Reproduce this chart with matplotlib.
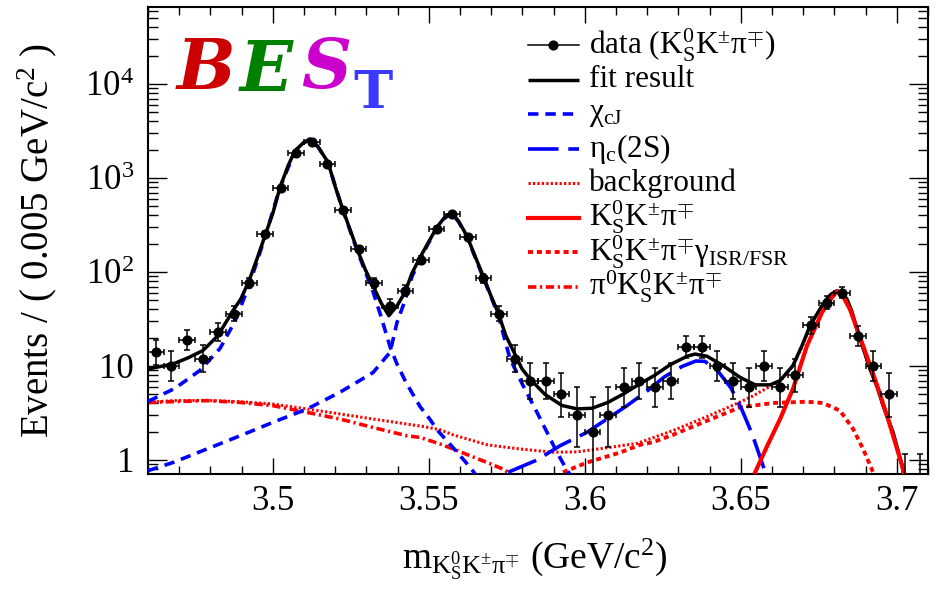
import math
import numpy as np
import matplotlib
matplotlib.use("Agg")
import matplotlib.pyplot as plt
from matplotlib.lines import Line2D
from matplotlib.ticker import MultipleLocator, LogLocator, FuncFormatter, NullFormatter

plt.rcParams['font.family'] = ['Liberation Serif', 'DejaVu Serif']
plt.rcParams['mathtext.fontset'] = 'custom'
plt.rcParams['mathtext.rm'] = 'Liberation Serif'
plt.rcParams['mathtext.it'] = 'Liberation Serif:italic'
plt.rcParams['mathtext.bf'] = 'Liberation Serif:bold'
plt.rcParams['mathtext.default'] = 'rm'
plt.rcParams['lines.scale_dashes'] = False

# ---------------- data: K0S K+- pi-+ invariant mass, 5 MeV bins ----------------
bin_lo, bin_hi, bin_w = 3.46, 3.71, 0.005
counts = [14, 10, 19, 12, 23, 36, 76, 254, 783, 1845, 2415, 1409, 457, 176, 76,
          44, 63, 134, 287, 414, 236, 86, 36, 12, 7, 7, 5, 3, 2, 3,
          6, 7, 6, 7, 16, 16, 10, 7, 6, 10, 6, 8, 27, 47, 60, 21, 10, 5, 0, 0]

# ---------------- fit curves (mass in GeV, events per bin) ----------------
fit_x = [3.4600, 3.4680, 3.4728, 3.4776, 3.4824, 3.4872, 3.4898, 3.4924, 3.4949, 3.4975,
         3.5001, 3.5023, 3.5049, 3.5071, 3.5097, 3.5119, 3.5145, 3.5177, 3.5199, 3.5222,
         3.5247, 3.5270, 3.5296, 3.5321, 3.5347, 3.5372, 3.5398, 3.5424, 3.5446, 3.5472,
         3.5497, 3.5526, 3.5549, 3.5574, 3.5597, 3.5622, 3.5648, 3.5674, 3.5699, 3.5722,
         3.5747, 3.5773, 3.5799, 3.5824, 3.5872, 3.5927, 3.5975, 3.6023, 3.6074, 3.6122,
         3.6171, 3.6225, 3.6273, 3.6328, 3.6353, 3.6392, 3.6443, 3.6497, 3.6546, 3.6594,
         3.6626, 3.6667, 3.6696, 3.6722, 3.6747, 3.6770, 3.6789, 3.6808, 3.6824, 3.6840,
         3.6856, 3.6872, 3.6892, 3.6914, 3.6937, 3.6956, 3.6988, 3.7017, 3.7026]
fit_y = [9.3, 10.5, 12.2, 14.6, 21, 38.7, 52, 81, 137, 243,
         432, 795, 1350, 1950, 2350, 2600, 2150, 1470, 830, 488,
         286, 176, 107, 71.5, 47, 34.3, 43.6, 61, 97, 143,
         202, 300, 375, 432, 340, 243, 148, 91, 56, 37,
         21, 14, 9.3, 7.3, 5.0, 3.8, 3.5, 3.55, 4.1, 5.0,
         6.3, 8.0, 10.3, 12.7, 13.4, 12.7, 10.1, 7.6, 6.3, 6.3,
         7.0, 10.1, 16.4, 26.8, 37, 49.5, 58, 63, 60, 51.6,
         38, 24.8, 15.5, 9.3, 6.0, 3.8, 1.97, 0.87, 0.6]

chic1_x = [3.4600, 3.4687, 3.4767, 3.4831, 3.4879, 3.4924, 3.4975, 3.5023, 3.5071, 3.5097,
           3.5119, 3.5145, 3.5177, 3.5222, 3.5270, 3.5321, 3.5344, 3.5376, 3.5398, 3.5424,
           3.5446, 3.5472, 3.5504, 3.5526, 3.5578, 3.5632, 3.5650]
chic1_y = [4.2, 5.8, 9.0, 15.4, 30, 72, 235, 790, 1940, 2340,
           2590, 2140, 1455, 480, 170, 62, 36, 16, 10.5, 7.0,
           5.2, 3.7, 2.7, 2.1, 1.35, 0.84, 0.7]

chic2_x = [3.4600, 3.4680, 3.4789, 3.4895, 3.5001, 3.5110, 3.5215, 3.5321, 3.5376, 3.5398,
           3.5424, 3.5446, 3.5472, 3.5497, 3.5526, 3.5549, 3.5574, 3.5597, 3.5622, 3.5648,
           3.5674, 3.5699, 3.5722, 3.5760, 3.5802, 3.5847, 3.5879, 3.5911, 3.5943, 3.5953]
chic2_y = [0.77, 0.94, 1.31, 1.81, 2.52, 3.49, 5.25, 8.5, 14, 29,
           50, 89, 137, 197, 295, 370, 425, 335, 238, 145,
           88, 55, 35, 12, 6.2, 3.2, 1.97, 1.2, 0.78, 0.7]

etac2s_x = [3.5754, 3.5847, 3.5921, 3.6007, 3.6071, 3.6135, 3.6199, 3.6256, 3.6312, 3.6356,
            3.6385, 3.6427, 3.6469, 3.6504, 3.6536, 3.6565, 3.6579]
etac2s_y = [0.74, 1.0, 1.42, 1.97, 2.73, 3.78, 5.4, 7.7, 9.9, 11.3,
            11.2, 8.8, 5.8, 3.4, 1.9, 1.0, 0.73]

bkg_x = [3.4600, 3.4680, 3.4789, 3.4895, 3.5001, 3.5110, 3.5215, 3.5321, 3.5430, 3.5472,
         3.5536, 3.5578, 3.5687, 3.5792, 3.5898, 3.5975, 3.6071, 3.6167, 3.6282, 3.6392,
         3.6488, 3.6539, 3.6579, 3.6626, 3.6667, 3.6696, 3.6722, 3.6747, 3.6770, 3.6808,
         3.6824, 3.6840, 3.6856, 3.6872, 3.6892, 3.6914, 3.6937, 3.6956, 3.6988, 3.7017,
         3.7026]
bkg_y = [4.1, 4.28, 4.3, 4.17, 3.94, 3.49, 3.09, 2.73, 2.41, 2.3,
         2.1, 1.85, 1.45, 1.31, 1.21, 1.22, 1.35, 1.5, 2.05, 2.9,
         4.0, 4.8, 5.7, 6.9, 10.0, 16, 26.5, 37, 49, 62.5,
         59.5, 51.3, 37.8, 24.6, 15.4, 9.2, 5.95, 3.75, 1.95, 0.86,
         0.6]

sig_x = [3.6546, 3.6585, 3.6626, 3.6667, 3.6712, 3.6760, 3.6789, 3.6808, 3.6824, 3.6850,
         3.6892, 3.6937, 3.6972, 3.7017, 3.7023]
sig_y = [0.74, 1.42, 2.73, 5.7, 16.4, 37, 52, 62, 58, 40,
         16.4, 6.2, 2.73, 0.87, 0.72]

isr_x = [3.5930, 3.6007, 3.6113, 3.6177, 3.6219, 3.6282, 3.6392, 3.6497, 3.6603, 3.6712,
         3.6763, 3.6818, 3.6860, 3.6892, 3.6924, 3.6930]
isr_y = [0.74, 0.94, 1.2, 1.45, 1.55, 1.85, 2.62, 3.63, 4.04, 4.17,
         4.04, 3.35, 2.14, 1.31, 0.74, 0.65]

pi0_x = [3.4600, 3.4789, 3.4895, 3.5001, 3.5110, 3.5215, 3.5321, 3.5430, 3.5472, 3.5536,
         3.5578, 3.5687, 3.5738, 3.5760]
pi0_y = [4.1, 4.28, 4.1, 3.78, 3.21, 2.73, 2.22, 1.81, 1.74, 1.48,
         1.31, 0.94, 0.80, 0.72]

x_ticks = [3.5, 3.55, 3.6, 3.65, 3.7]

legend_labels = [r"data (K$^{0}_{S}$K$^{\pm}\pi^{\mp}$)",
                 "fit result",
                 r"$\chi_{cJ}$",
                 r"$\eta_{c}$(2S)",
                 "background",
                 r"K$^{0}_{S}$K$^{\pm}\pi^{\mp}$",
                 r"K$^{0}_{S}$K$^{\pm}\pi^{\mp}\gamma_{ISR/FSR}$",
                 r"$\pi^{0}$K$^{0}_{S}$K$^{\pm}\pi^{\mp}$"]

BLUE = '#0000ff'
RED = '#ff0000'

# ---------------- Poisson (68.27% central) intervals for the data ----------------
def poisson_cdf(n, mu):
    k = np.arange(n + 1)
    lg = np.array([math.lgamma(i + 1.0) for i in k])
    return float(np.exp(-mu + k * math.log(mu) - lg).sum())


def poisson_interval(n, cl=0.682689):
    a = 0.5 * (1.0 - cl)
    if n == 0:
        return 0.0, -math.log(1.0 - cl)
    # upper limit: P(X <= n | mu) = a
    lo, hi = float(n), n + 10.0 * math.sqrt(n + 1.0) + 10.0
    for _ in range(80):
        mid = 0.5 * (lo + hi)
        if poisson_cdf(n, mid) > a:
            lo = mid
        else:
            hi = mid
    up = 0.5 * (lo + hi)
    # lower limit: P(X >= n | mu) = a
    lo, hi = 1e-9, float(n)
    for _ in range(80):
        mid = 0.5 * (lo + hi)
        if 1.0 - poisson_cdf(n - 1, mid) < a:
            lo = mid
        else:
            hi = mid
    low = 0.5 * (lo + hi)
    return n - low, up - n


centers = bin_lo + bin_w * (np.arange(len(counts)) + 0.5)
counts_arr = np.array(counts, dtype=float)
errs = np.array([poisson_interval(c) for c in counts])
# empty bins: only the upper error bar is visible on the log axis
tiny = 1e-3
y_plot = np.where(counts_arr > 0, counts_arr, tiny)
err_lo = np.where(counts_arr > 0, errs[:, 0], 0.0)
err_hi = np.where(counts_arr > 0, errs[:, 1], errs[:, 1] - tiny)

# ---------------- figure ----------------
fig = plt.figure(figsize=(9.36, 5.89), dpi=100)
ax = fig.add_axes([148 / 936, 115 / 589, 780 / 936, 467 / 589])
ax.set_yscale('log', nonpositive='clip')
ax.set_xlim(bin_lo, bin_hi)
ax.set_ylim(10 ** (-14 / 94), 10 ** (453 / 94))

styles = {
    'fit': dict(color='black', lw=2.5, solid_capstyle='butt'),
    'chic': dict(color=BLUE, lw=2.6, dashes=(7.5, 5.0)),
    'etac': dict(color=BLUE, lw=2.6, dashes=(22, 7)),
    'bkg': dict(color=RED, lw=2.2, dashes=(1.6, 1.6)),
    'sig': dict(color=RED, lw=3.0),
    'isr': dict(color=RED, lw=2.8, dashes=(3.6, 2.8)),
    'pi0': dict(color=RED, lw=2.6, dashes=(6, 2.6, 1.6, 2.6)),
}

ax.plot(pi0_x, pi0_y, zorder=2, **styles['pi0'])
ax.plot(isr_x, isr_y, zorder=2, **styles['isr'])
ax.plot(bkg_x, bkg_y, zorder=2, **styles['bkg'])
ax.plot(chic1_x, chic1_y, zorder=3, **styles['chic'])
ax.plot(chic2_x, chic2_y, zorder=3, **styles['chic'])
ax.plot(etac2s_x, etac2s_y, zorder=3, **styles['etac'])
ax.plot(fit_x, fit_y, zorder=4, **styles['fit'])
ax.plot(sig_x, sig_y, zorder=5, **styles['sig'])

ax.errorbar(centers, y_plot, xerr=bin_w / 2, yerr=[err_lo, err_hi], fmt='o',
            color='black', ms=6.3, elinewidth=1.1, capsize=2.4, capthick=1.1, zorder=6)

# ---------------- axes, ticks ----------------
ax.xaxis.set_major_locator(MultipleLocator(0.05))
ax.xaxis.set_minor_locator(MultipleLocator(0.01))
ax.set_xticks(x_ticks)
ax.xaxis.set_major_formatter(FuncFormatter(lambda v, p: '%g' % v))
ax.yaxis.set_major_locator(LogLocator(base=10))
ax.yaxis.set_minor_locator(LogLocator(base=10, subs=np.arange(2, 10)))
ax.yaxis.set_minor_formatter(NullFormatter())


def ylab(v, p):
    e = int(round(math.log10(v)))
    if e == 0:
        return '1'
    if e == 1:
        return '10'
    return r'$10^{%d}$' % e


ax.yaxis.set_major_formatter(FuncFormatter(ylab))
ax.tick_params(which='both', direction='in', top=True, right=True, width=1.0,
               labelsize=25)
ax.tick_params(axis='x', which='major', length=11.5, pad=8)
ax.tick_params(axis='x', which='minor', length=5.8)
ax.tick_params(axis='y', which='major', length=14, pad=10)
ax.tick_params(axis='y', which='minor', length=7)
for s in ax.spines.values():
    s.set_linewidth(1.5)

ax.set_xlabel(r"m$_{K^{0}_{S}K^{\pm}\pi^{\mp}}$ (GeV/c$^{2}$)", fontsize=27,
              va='baseline')
ax.xaxis.set_label_coords(0.4955, -0.2013)
ax.set_ylabel(r"Events / ( 0.005 GeV/c$^{2}$ )", fontsize=28, va='center')
ax.yaxis.set_label_coords(-0.142, 0.5)

# ---------------- legend ----------------
handles = ['data', 'fit', 'chic', 'etac', 'bkg', 'sig', 'isr', 'pi0']
lx0, lx1, tx = 0.487, 0.5526, 0.5654
ly0, dy = 0.9186, 0.0739
for i, (h, lab) in enumerate(zip(handles, legend_labels)):
    y = ly0 - i * dy
    if h == 'data':
        ln = Line2D([lx0, 0.5 * (lx0 + lx1), lx1], [y, y, y], color='black', lw=1.1,
                    marker='o', ms=6.3, markevery=[1], transform=ax.transAxes)
    else:
        ln = Line2D([lx0, lx1], [y, y], transform=ax.transAxes, **styles[h])
    ax.add_line(ln)
    ax.text(tx, y, lab, fontsize=22.5, va='center', ha='left', transform=ax.transAxes)

# ---------------- experiment logo ----------------
logo = [('B', '#cc0000', 0.0744, 0.865), ('E', '#008000', 0.151, 0.862),
        ('S', '#cc00cc', 0.228, 0.868)]
for ch, col, lx, lyy in logo:
    ax.text(lx, lyy, ch, color=col, fontsize=50, fontweight='bold', style='italic',
            family='DejaVu Serif', ha='center', va='center', transform=ax.transAxes)
ax.text(0.288, 0.815, 'T', color='#3a3aff', fontsize=38, family='DejaVu Serif',
        fontweight='bold', ha='center', va='center', transform=ax.transAxes)

fig.savefig('out.png', dpi=100)
